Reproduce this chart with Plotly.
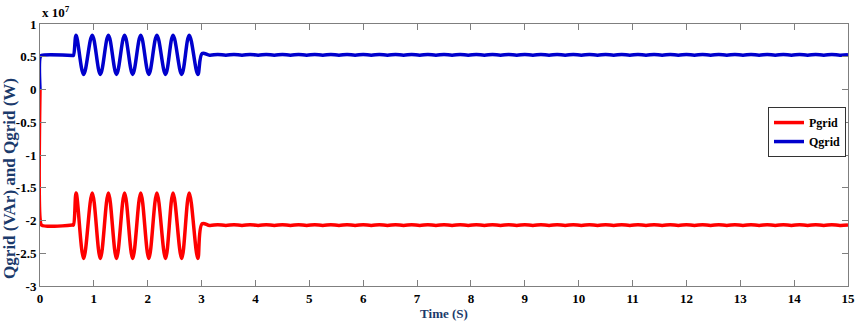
import plotly.graph_objects as go

# time samples (s): start-up, oscillation peaks/troughs, then post-disturbance ripple
t_start = [0, 0.005, 0.03, 0.60, 0.62]
t_osc = [0.67, 0.81, 0.97, 1.12, 1.27, 1.42, 1.57, 1.72, 1.87, 2.02,
         2.17, 2.33, 2.47, 2.63, 2.77, 2.93, 3.01]
t_ripple = [3.15, 3.30, 3.45, 3.60, 3.75, 3.90, 4.05, 4.20, 4.35, 4.50,
            4.65, 4.80, 4.95, 5.10, 5.25, 5.40, 5.55, 5.70, 5.85, 6.00,
            6.15, 6.30, 6.45, 6.60, 6.75, 6.90, 7.05, 7.20, 7.35, 7.50,
            7.65, 7.80, 7.95, 8.10, 8.25, 8.40, 8.55, 8.70, 8.85, 9.00,
            9.15, 9.30, 9.45, 9.60, 9.75, 9.90, 10.05, 10.20, 10.35, 10.50,
            10.65, 10.80, 10.95, 11.10, 11.25, 11.40, 11.55, 11.70, 11.85, 12.00,
            12.15, 12.30, 12.45, 12.60, 12.75, 12.90, 13.05, 13.20, 13.35, 13.50,
            13.65, 13.80, 13.95, 14.10, 14.25, 14.40, 14.55, 14.70, 14.85, 15.00]

# values in units of 1e7
q_start = [0, 0.50, 0.52, 0.52, 0.52]
q_osc = [0.83, 0.23, 0.83, 0.23, 0.83, 0.23, 0.83, 0.23, 0.83, 0.23,
         0.83, 0.23, 0.83, 0.23, 0.83, 0.23, 0.55]
q_ripple = [0.524, 0.536, 0.524, 0.536, 0.524, 0.536, 0.524, 0.536, 0.524, 0.536,
            0.524, 0.536, 0.524, 0.536, 0.524, 0.536, 0.524, 0.536, 0.524, 0.536,
            0.524, 0.536, 0.524, 0.536, 0.524, 0.536, 0.524, 0.536, 0.524, 0.536,
            0.524, 0.536, 0.524, 0.536, 0.524, 0.536, 0.524, 0.536, 0.524, 0.536,
            0.524, 0.536, 0.524, 0.536, 0.524, 0.536, 0.524, 0.536, 0.524, 0.536,
            0.524, 0.536, 0.524, 0.536, 0.524, 0.536, 0.524, 0.536, 0.524, 0.536,
            0.524, 0.536, 0.524, 0.536, 0.524, 0.536, 0.524, 0.536, 0.524, 0.536,
            0.524, 0.536, 0.524, 0.536, 0.524, 0.536, 0.524, 0.536, 0.524, 0.530]

p_start = [0, -2.0, -2.07, -2.07, -2.07]
p_osc = [-1.58, -2.58, -1.58, -2.58, -1.58, -2.58, -1.58, -2.58, -1.58, -2.58,
         -1.58, -2.58, -1.58, -2.58, -1.58, -2.58, -2.05]
p_ripple = [-2.076, -2.064, -2.076, -2.064, -2.076, -2.064, -2.076, -2.064, -2.076, -2.064,
            -2.076, -2.064, -2.076, -2.064, -2.076, -2.064, -2.076, -2.064, -2.076, -2.064,
            -2.076, -2.064, -2.076, -2.064, -2.076, -2.064, -2.076, -2.064, -2.076, -2.064,
            -2.076, -2.064, -2.076, -2.064, -2.076, -2.064, -2.076, -2.064, -2.076, -2.064,
            -2.076, -2.064, -2.076, -2.064, -2.076, -2.064, -2.076, -2.064, -2.076, -2.064,
            -2.076, -2.064, -2.076, -2.064, -2.076, -2.064, -2.076, -2.064, -2.076, -2.064,
            -2.076, -2.064, -2.076, -2.064, -2.076, -2.064, -2.076, -2.064, -2.076, -2.064,
            -2.076, -2.064, -2.076, -2.064, -2.076, -2.064, -2.076, -2.064, -2.076, -2.070]

y_ticks = [1, 0.5, 0, -0.5, -1, -1.5, -2, -2.5, -3]
y_ticktext = ["1", "0.5", "0", "-0.5", "-1", "-1.5", "-2", "-2.5", "-3"]
x_ticks = list(range(0, 16))

t = t_start + t_osc + t_ripple
pgrid = p_start + p_osc + p_ripple
qgrid = q_start + q_osc + q_ripple

serif = "Liberation Serif, Times New Roman, serif"
navy = "#1b3a6b"
axis_grey = "#7f7f7f"

fig = go.Figure()
fig.add_trace(go.Scatter(
    x=t, y=pgrid, mode="lines", name="Pgrid",
    line=dict(color="#ff0000", width=3.5, shape="spline", smoothing=1),
))
fig.add_trace(go.Scatter(
    x=t, y=qgrid, mode="lines", name="Qgrid",
    line=dict(color="#0000cd", width=3.5, shape="spline", smoothing=1),
))

fig.update_layout(
    width=858,
    height=323,
    plot_bgcolor="white",
    paper_bgcolor="white",
    margin=dict(l=40, r=10, t=24, b=37),
    font=dict(family=serif, size=13, color="black"),
    showlegend=True,
    legend=dict(
        x=0.9975, xanchor="right", y=0.683, yanchor="top",
        bgcolor="white", bordercolor="#333333", borderwidth=1,
        font=dict(family=serif, size=12, color="black", weight="bold"),
        tracegroupgap=0, itemwidth=30,
    ),
    xaxis=dict(
        range=[0, 15], tickvals=x_ticks, automargin=False,
        ticks="inside", ticklen=6, tickcolor=axis_grey,
        showline=True, linecolor=axis_grey, linewidth=1, mirror="ticks",
        showgrid=False, zeroline=False,
        tickfont=dict(family=serif, size=13, color="black", weight="bold"),
        title=dict(text="Time (S)", standoff=0,
                   font=dict(family=serif, size=13, color=navy, weight="bold")),
    ),
    yaxis=dict(
        range=[-3, 1], tickvals=y_ticks, ticktext=y_ticktext, automargin=False,
        ticks="inside", ticklen=6, tickcolor=axis_grey,
        showline=True, linecolor=axis_grey, linewidth=1, mirror="ticks",
        showgrid=False, zeroline=False,
        tickfont=dict(family=serif, size=13, color="black", weight="bold"),
    ),
)

# rotated y-axis title, placed by hand like the original
fig.add_annotation(
    text="Qgrid (VAr) and Qgrid (W)", textangle=-90,
    xref="paper", yref="paper", x=-0.038, y=0.41,
    xanchor="center", yanchor="middle", showarrow=False,
    font=dict(family=serif, size=17, color=navy, weight="bold"),
)
# exponent label above the y axis
fig.add_annotation(
    text="x 10<sup>7</sup>",
    xref="paper", yref="paper", x=0.0, y=1.0,
    xanchor="left", yanchor="bottom", yshift=2, showarrow=False,
    font=dict(family=serif, size=13, color="black", weight="bold"),
)

# drop the default page margin so the figure sits at the window's corner
fig.write_html("out.html", config={"displayModeBar": False},
               post_script="document.body.style.margin='0';")
